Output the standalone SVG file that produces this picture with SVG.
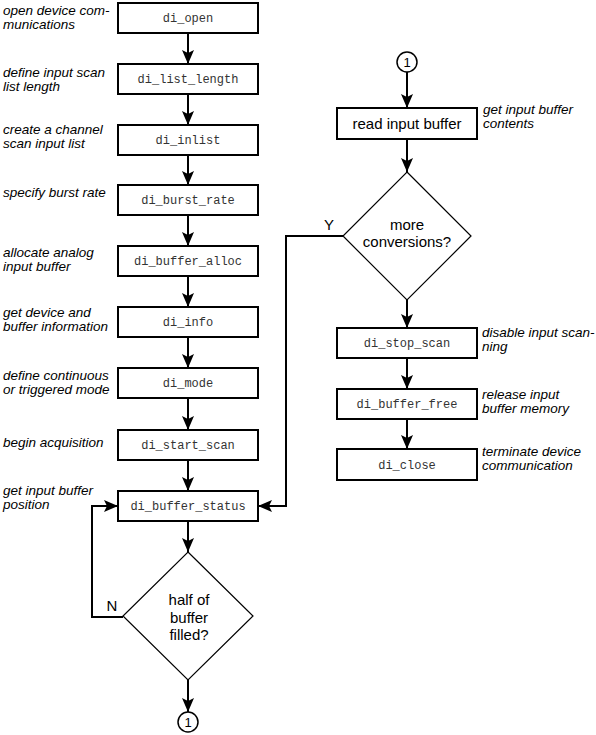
<svg xmlns="http://www.w3.org/2000/svg" width="596" height="735" viewBox="0 0 596 735">
<style>
.box{fill:#fff;stroke:#000;stroke-width:2}
.dia{fill:#fff;stroke:#000;stroke-width:1.2}
.circ{fill:#fff;stroke:#000;stroke-width:1.5}
.mono{font-family:"Liberation Mono","Courier New",monospace;font-size:12px;fill:#333;text-anchor:middle}
.sans{font-family:"Liberation Sans",Arial,sans-serif;font-size:15px;fill:#000;text-anchor:middle}
.lbl{font-family:"Liberation Sans",Arial,sans-serif;font-size:13.5px;font-style:italic;fill:#000}
.num{font-family:"Liberation Sans",Arial,sans-serif;font-size:13px;fill:#000;text-anchor:middle}
.ln{fill:none;stroke:#000;stroke-width:2}
</style>
<defs>
<marker id="ah" viewBox="0 0 14 12" refX="14" refY="6" markerWidth="14" markerHeight="12" markerUnits="userSpaceOnUse" orient="auto">
<path d="M0,0 L14,6 L0,12 L3,6 z" fill="#000"/>
</marker>
</defs>

<g id="connectors">
<line class="ln" x1="188" y1="33" x2="188" y2="64" marker-end="url(#ah)"/>
<line class="ln" x1="188" y1="94" x2="188" y2="125" marker-end="url(#ah)"/>
<line class="ln" x1="188" y1="155" x2="188" y2="185" marker-end="url(#ah)"/>
<line class="ln" x1="188" y1="215" x2="188" y2="246" marker-end="url(#ah)"/>
<line class="ln" x1="188" y1="276" x2="188" y2="307" marker-end="url(#ah)"/>
<line class="ln" x1="188" y1="337" x2="188" y2="368" marker-end="url(#ah)"/>
<line class="ln" x1="188" y1="398" x2="188" y2="430" marker-end="url(#ah)"/>
<line class="ln" x1="188" y1="460" x2="188" y2="491" marker-end="url(#ah)"/>
<line class="ln" x1="188" y1="521" x2="188" y2="552" marker-end="url(#ah)"/>
<line class="ln" x1="188" y1="680" x2="188" y2="712" marker-end="url(#ah)"/>
<polyline class="ln" points="123,617 92,617 92,506 118,506" marker-end="url(#ah)"/>
<line class="ln" x1="407" y1="72" x2="407" y2="108" marker-end="url(#ah)"/>
<line class="ln" x1="407" y1="139" x2="407" y2="172" marker-end="url(#ah)"/>
<line class="ln" x1="407" y1="300" x2="407" y2="328" marker-end="url(#ah)"/>
<line class="ln" x1="407" y1="358" x2="407" y2="389" marker-end="url(#ah)"/>
<line class="ln" x1="407" y1="419" x2="407" y2="449" marker-end="url(#ah)"/>
<polyline class="ln" points="343,236 286,236 286,506 258,506" marker-end="url(#ah)"/>
<text class="sans" x="112" y="611">N</text>
<text class="sans" x="329" y="230">Y</text>
</g>

<g id="n_open"><rect class="box" x="118" y="3" width="140" height="30"/><text class="mono" x="188" y="22">di_open</text>
<text class="lbl" x="3" y="14.5">open device com-</text><text class="lbl" x="3" y="28.5">munications</text></g>
<g id="n_list_length"><rect class="box" x="118" y="64" width="140" height="30"/><text class="mono" x="188" y="83">di_list_length</text>
<text class="lbl" x="3" y="76.5">define input scan</text><text class="lbl" x="3" y="90.5">list length</text></g>
<g id="n_inlist"><rect class="box" x="118" y="125" width="140" height="30"/><text class="mono" x="188" y="144">di_inlist</text>
<text class="lbl" x="3" y="133.5">create a channel</text><text class="lbl" x="3" y="147.5">scan input list</text></g>
<g id="n_burst_rate"><rect class="box" x="118" y="185" width="140" height="30"/><text class="mono" x="188" y="204">di_burst_rate</text>
<text class="lbl" x="3" y="197">specify burst rate</text></g>
<g id="n_buffer_alloc"><rect class="box" x="118" y="246" width="140" height="30"/><text class="mono" x="188" y="265">di_buffer_alloc</text>
<text class="lbl" x="3" y="256.5">allocate analog</text><text class="lbl" x="3" y="270.5">input buffer</text></g>
<g id="n_info"><rect class="box" x="118" y="307" width="140" height="30"/><text class="mono" x="188" y="326">di_info</text>
<text class="lbl" x="3" y="317">get device and</text><text class="lbl" x="3" y="331">buffer information</text></g>
<g id="n_mode"><rect class="box" x="118" y="368" width="140" height="30"/><text class="mono" x="188" y="387">di_mode</text>
<text class="lbl" x="3" y="380">define continuous</text><text class="lbl" x="3" y="394">or triggered mode</text></g>
<g id="n_start_scan"><rect class="box" x="118" y="430" width="140" height="30"/><text class="mono" x="188" y="449">di_start_scan</text>
<text class="lbl" x="3" y="447">begin acquisition</text></g>
<g id="n_buffer_status"><rect class="box" x="118" y="491" width="140" height="30"/><text class="mono" x="188" y="510">di_buffer_status</text>
<text class="lbl" x="3" y="495">get input buffer</text><text class="lbl" x="3" y="509">position</text></g>
<g id="n_half_filled"><polygon class="dia" points="188,552 253,616 188,680 123,616"/>
<text class="sans" x="189" y="605">half of</text><text class="sans" x="189" y="623">buffer</text><text class="sans" x="189" y="640">filled?</text></g>
<g id="n_conn_out"><circle class="circ" cx="188" cy="722" r="10"/><text class="num" x="188" y="727">1</text></g>

<g id="n_conn_in"><circle class="circ" cx="407" cy="62" r="10"/><text class="num" x="407" y="67">1</text></g>
<g id="n_read"><rect class="box" x="337" y="108" width="140" height="31"/><text class="sans" x="407" y="129">read input buffer</text>
<text class="lbl" x="483" y="114">get input buffer</text><text class="lbl" x="483" y="128">contents</text></g>
<g id="n_more"><polygon class="dia" points="407,172 471,236 407,300 343,236"/>
<text class="sans" x="407" y="230">more</text><text class="sans" x="407" y="247">conversions?</text></g>
<g id="n_stop_scan"><rect class="box" x="337" y="328" width="140" height="30"/><text class="mono" x="407" y="347">di_stop_scan</text>
<text class="lbl" x="482" y="337">disable input scan-</text><text class="lbl" x="482" y="351">ning</text></g>
<g id="n_buffer_free"><rect class="box" x="337" y="389" width="140" height="30"/><text class="mono" x="407" y="408">di_buffer_free</text>
<text class="lbl" x="482" y="399">release input</text><text class="lbl" x="482" y="413">buffer memory</text></g>
<g id="n_close"><rect class="box" x="337" y="449" width="140" height="31"/><text class="mono" x="407" y="469">di_close</text>
<text class="lbl" x="482" y="456">terminate device</text><text class="lbl" x="482" y="470">communication</text></g>
</svg>
